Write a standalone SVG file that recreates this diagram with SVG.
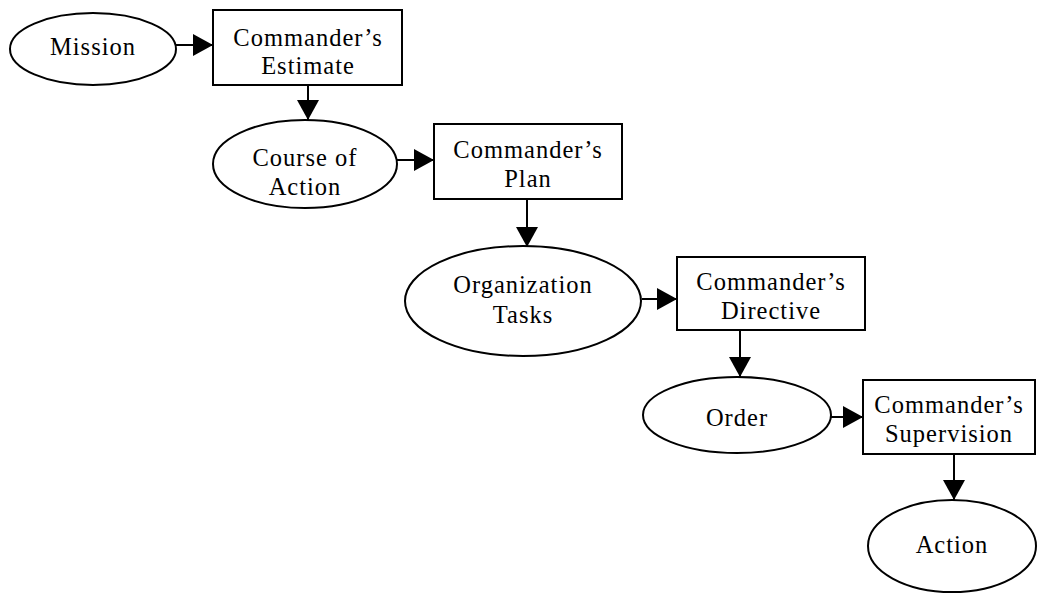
<svg xmlns="http://www.w3.org/2000/svg" width="1037" height="594" viewBox="0 0 1037 594">
<style>
.n{fill:#fff;stroke:#000;stroke-width:2}
.t{font-family:"Liberation Serif","Times New Roman",serif;font-size:24.5px;letter-spacing:1px;fill:#000;text-anchor:middle}
.c{stroke:#000;stroke-width:2;fill:none;marker-end:url(#ah)}
</style>
<defs>
<marker id="ah" markerUnits="userSpaceOnUse" markerWidth="20" markerHeight="22" refX="20" refY="11" orient="auto">
<path d="M0,0 L20,11 L0,22 z" fill="#000"/>
</marker>
</defs>
<rect width="1037" height="594" fill="#fff"/>
<g id="connectors">
<line class="c" x1="176" y1="45" x2="213" y2="45"/>
<line class="c" x1="308" y1="85" x2="308" y2="120"/>
<line class="c" x1="397" y1="160" x2="434" y2="160"/>
<line class="c" x1="527" y1="199" x2="527" y2="247"/>
<line class="c" x1="642" y1="299" x2="677" y2="299"/>
<line class="c" x1="740" y1="330" x2="740" y2="377"/>
<line class="c" x1="831" y1="417" x2="863" y2="417"/>
<line class="c" x1="954" y1="454" x2="954" y2="500"/>
</g>
<g id="mission">
<ellipse class="n" cx="93" cy="49" rx="83" ry="36"/>
<text class="t" x="93" y="55">Mission</text>
</g>
<g id="estimate">
<rect class="n" x="213" y="10" width="189" height="75"/>
<text class="t" x="308" y="46">Commander’s</text>
<text class="t" x="308" y="74">Estimate</text>
</g>
<g id="course">
<ellipse class="n" cx="305" cy="164" rx="92" ry="44"/>
<text class="t" x="305" y="166">Course of</text>
<text class="t" x="305" y="195">Action</text>
</g>
<g id="plan">
<rect class="n" x="434" y="124" width="188" height="75"/>
<text class="t" x="528" y="158">Commander’s</text>
<text class="t" x="528" y="187">Plan</text>
</g>
<g id="org">
<ellipse class="n" cx="523" cy="301" rx="118" ry="55"/>
<text class="t" x="523" y="293">Organization</text>
<text class="t" x="523" y="323">Tasks</text>
</g>
<g id="directive">
<rect class="n" x="677" y="257" width="188" height="73"/>
<text class="t" x="771" y="290">Commander’s</text>
<text class="t" x="771" y="319">Directive</text>
</g>
<g id="order">
<ellipse class="n" cx="737" cy="415" rx="94" ry="38"/>
<text class="t" x="737" y="426">Order</text>
</g>
<g id="supervision">
<rect class="n" x="863" y="380" width="172" height="74"/>
<text class="t" x="949" y="413">Commander’s</text>
<text class="t" x="949" y="442">Supervision</text>
</g>
<g id="action">
<ellipse class="n" cx="952" cy="546" rx="84" ry="46"/>
<text class="t" x="952" y="553">Action</text>
</g>
</svg>
